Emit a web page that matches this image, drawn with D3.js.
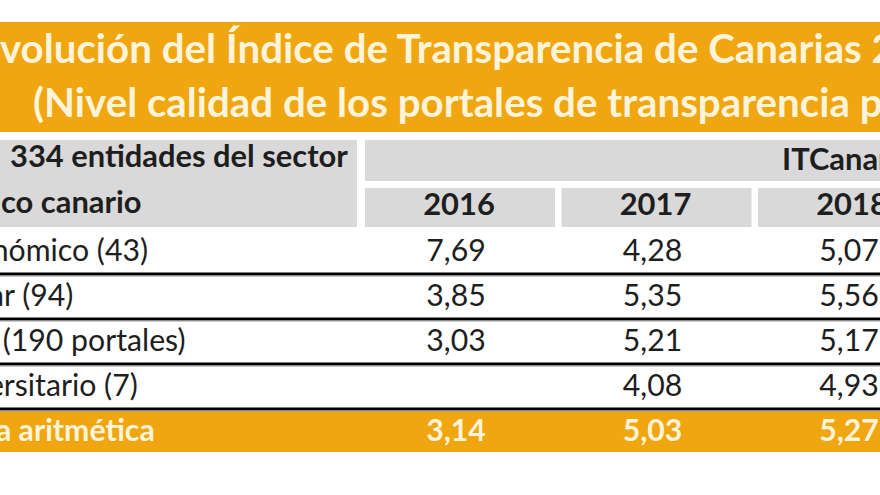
<!DOCTYPE html>
<html><head><meta charset="utf-8">
<script src="https://cdn.jsdelivr.net/npm/d3@7"></script>
<style>body{margin:0;background:#fff} svg{display:block} text{font-family:Lato,"Open Sans",sans-serif}</style>
</head><body><svg id="c" width="880" height="495"></svg>
<script>
// texts whose start lies beyond the cropped left edge are kept as [hidden part, visible part]
const titleLines = [["E", "volución del Índice de Transparencia de Canarias 2016-2018"], "(Nivel calidad de los portales de transparencia públicos)"];
const headerLines = [["Las", "334 entidades del sector"], ["públi", "co canario"]];
const groupLabel = "ITCanarias";
const years = ["2016", "2017", "2018"];
const categories = ["Autonómico (43)", "Insular (94)", "Local (190 portales)", "Universitario (7)"];
const values2016 = [7.69, 3.85, 3.03, null];
const values2017 = [4.28, 5.35, 5.21, 4.08];
const values2018 = [5.07, 5.56, 5.17, 4.93];
const meanLabel = "Media aritmética";
const meanValues = [3.14, 5.03, 5.27];

const ORANGE = "#F0A610", CREAM = "#FFF4DA", GRAY = "#D9D9D9", INK = "#1e1e1e";
const svg = d3.select("#c");
const es = d3.formatLocale({decimal: ",", thousands: ".", grouping: [3], currency: ["", "€"]});
const fmt = es.format(".2f");

function draw() {
  svg.selectAll("*").remove();
  function fitSize(text, weight, target) {
    const t = svg.append("text").attr("font-size", 100).attr("font-weight", weight).text(text);
    const w = t.node().getComputedTextLength();
    t.remove();
    return 100 * target / w;
  }
  function split(pair, xHidden, xVisible, yPos, size, weight, fill) {
    svg.append("text").attr("x", xHidden).attr("y", yPos).attr("text-anchor", "end")
      .attr("font-size", size).attr("font-weight", weight).attr("fill", fill).text(pair[0]);
    svg.append("text").attr("x", xVisible).attr("y", yPos)
      .attr("font-size", size).attr("font-weight", weight).attr("fill", fill).text(pair[1]);
  }
  const titleSize = fitSize("volución del Índice de Transparencia de Canarias", 700, 862);
  const headSize = fitSize("334 entidades del sector", 700, 338);
  const bodySize = fitSize("(190 portales)", 400, 183);

  const rows = categories.concat([meanLabel]);
  const byYear = {"2016": values2016, "2017": values2017, "2018": values2018};

  const x = d3.scaleBand().domain(years).range([365, 948]).paddingInner(0.033);
  const y = d3.scaleBand().domain(rows).range([229, 454]);

  // title band
  svg.append("rect").attr("x", 0).attr("y", 22).attr("width", 880).attr("height", 110).attr("fill", ORANGE);
  split(titleLines[0], -4, 0, 63, titleSize, 700, CREAM);
  svg.append("text").attr("x", 33).attr("y", 117)
    .attr("font-size", titleSize).attr("font-weight", 700).attr("fill", CREAM).text(titleLines[1]);

  // header
  svg.append("rect").attr("x", 0).attr("y", 140).attr("width", 357).attr("height", 87).attr("fill", GRAY);
  svg.append("rect").attr("x", 365).attr("y", 140).attr("width", 515).attr("height", 41).attr("fill", GRAY);
  svg.selectAll("rect.yr").data(years).join("rect").attr("class", "yr")
    .attr("x", d => x(d)).attr("y", 188).attr("width", x.bandwidth()).attr("height", 39).attr("fill", GRAY);
  split(headerLines[0], -2, 10, 167, headSize, 700, INK);
  split(headerLines[1], -6, 1, 213, headSize, 700, INK);
  svg.append("text").attr("x", 782).attr("y", 170)
    .attr("font-size", headSize).attr("font-weight", 700).attr("fill", INK).text(groupLabel);
  svg.selectAll("text.yr").data(years).join("text").attr("class", "yr")
    .attr("x", d => x(d) + x.bandwidth() / 2 - 1).attr("y", 215).attr("text-anchor", "middle")
    .attr("font-size", headSize).attr("font-weight", 700).attr("fill", INK).text(d => d);

  // mean row band
  svg.append("rect").attr("x", 0).attr("y", y(meanLabel) + 2).attr("width", 880).attr("height", 41).attr("fill", ORANGE);

  // separators
  categories.forEach(c => {
    const yy = y(c) + y.step();
    svg.append("rect").attr("x", 0).attr("y", yy - 1.5).attr("width", 880).attr("height", 3).attr("fill", "#000");
    svg.append("rect").attr("x", 0).attr("y", yy + 1.5).attr("width", 880).attr("height", 1).attr("fill", "#9a9a9a");
  });

  // labels: common left edge, chosen so that "(190 portales)" starts at the left border
  const probe = svg.append("text").attr("x", 0).attr("font-size", bodySize).text("Local");
  const labelX = -5 - probe.node().getComputedTextLength();
  probe.remove();
  svg.selectAll("text.lab").data(categories).join("text").attr("class", "lab")
    .attr("x", labelX).attr("y", d => y(d) + 32)
    .attr("font-size", bodySize).attr("fill", INK).text(d => d);
  svg.append("text").attr("x", labelX).attr("y", y(meanLabel) + 32)
    .attr("font-size", bodySize).attr("font-weight", 700).attr("fill", CREAM).text(meanLabel);

  // values
  years.forEach(yr => {
    svg.selectAll("text.v" + yr).data(categories.map((c, i) => ({c, v: byYear[yr][i]})).filter(d => d.v != null))
      .join("text").attr("class", "v" + yr)
      .attr("x", x(yr) + x.bandwidth() / 2 - 4).attr("y", d => y(d.c) + 32).attr("text-anchor", "middle")
      .attr("font-size", bodySize).attr("fill", INK).text(d => fmt(d.v));
  });
  svg.selectAll("text.mean").data(years).join("text").attr("class", "mean")
    .attr("x", d => x(d) + x.bandwidth() / 2 - 4).attr("y", y(meanLabel) + 32).attr("text-anchor", "middle")
    .attr("font-size", bodySize).attr("font-weight", 700).attr("fill", CREAM).text((d, i) => fmt(meanValues[i]));
}

draw();
if (document.fonts && document.fonts.load) {
  Promise.all([document.fonts.load("700 30px Lato"), document.fonts.load("400 30px Lato")])
    .then(() => document.fonts.ready).then(draw).catch(() => {});
}
</script></body></html>
